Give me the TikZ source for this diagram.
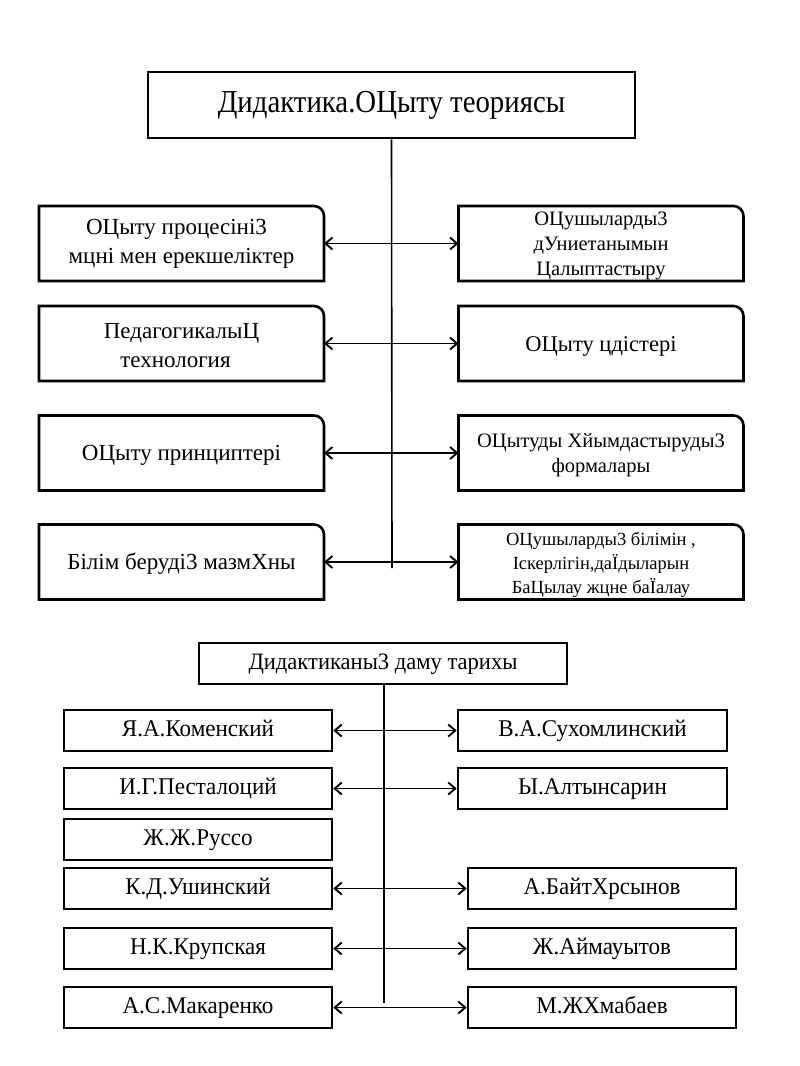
\documentclass[tikz,border=0pt]{standalone}
\usepackage{fontspec}
\setmainfont{Liberation Serif}
\newfontfamily\titlefont[FakeStretch=0.9]{Liberation Serif}
\newfontfamily\narrowfont[FakeStretch=0.96]{Liberation Serif}
\usetikzlibrary{arrows.meta}
\begin{document}
\begin{tikzpicture}[x=1pt,y=-1pt,
  box/.style={draw, line width=2.6pt, inner sep=0pt, align=center},
  rbox/.style={inner sep=0pt, align=center, minimum width=285pt, minimum height=75pt},
  ltxt/.style={font=\fontsize{23}{29}\selectfont},
  rtxt/.style={font=\fontsize{20.5}{25}\selectfont},
  lowbox/.style={box, minimum width=268pt, minimum height=41pt, text height=16pt, text depth=4pt, font=\narrowfont\fontsize{24}{26}\selectfont},
  conn/.style={line width=1.3pt, {Straight Barb[length=7pt,width=12pt,line width=1.9pt]}-{Straight Barb[length=7pt,width=12pt,line width=1.9pt]}},
  vline/.style={line width=1.6pt},
  edge/.style={line width=2.6pt}]
\useasboundingbox (0,0) rectangle (800,1066);
\fill[white] (0,0) rectangle (800,1066);

% top section
\node[box, minimum width=487pt, minimum height=66pt, font=\titlefont\fontsize{32}{36}\selectfont] (T) at (391.5,105) {Дидактика.ОЦыту теориясы};

\node[rbox, ltxt] (L1) at (181.5,243.5) {\hspace*{-10pt}ОЦыту процесіні3\\ мцні мен ерекшеліктер};
\node[rbox, ltxt] (L2) at (181.5,346) {ПедагогикалыЦ\\\hspace*{-12pt}технология};
\node[rbox, ltxt] (L3) at (181.5,455) {ОЦыту принциптері};
\node[rbox, ltxt] (L4) at (181.5,564) {Білім беруді3 мазмХны};

\node[rbox, rtxt] (R1) at (601,246) {ОЦушыларды3\\дУниетанымын\\Цалыптастыру};
\node[rbox, rtxt, font=\fontsize{22.5}{25}\selectfont] (R2) at (601,346) {ОЦыту цдістері};
\node[rbox, rtxt] (R3) at (601,455) {ОЦытуды Хйымдастыруды3\\формалары};
\node[rbox, rtxt, font=\fontsize{18.5}{24}\selectfont] (R4) at (601,565) {ОЦушыларды3 білімін ,\\Іскерлігін,даЇдыларын\\БаЦылау жцне баЇалау};

\foreach \n/\cy in {L1/243.5,L2/343.5,L3/453,L4/562,R1/243.5,R2/343.5,R3/453,R4/562}{
  \coordinate (\n c) at (\n.center |- 0,\cy);
  \draw[edge] ([shift={(-142.5pt,-37.5pt)}]\n c) -- ([shift={(-142.5pt,37.5pt)}]\n c) -- ([shift={(132.5pt,37.5pt)}]\n c)
     arc[start angle=90, end angle=0, radius=10pt] -- ([shift={(142.5pt,-37.5pt)}]\n c) -- cycle;
}

\coordinate (Tend) at (392,568);
\draw[vline] (T.south) -- (Tend);

\foreach \i in {1,2,3,4}
  \draw[conn] ([xshift=142.5pt]L\i c) -- ([xshift=-142.5pt]R\i c);

% lower section
\node[box, minimum width=368pt, minimum height=41pt, text height=16pt, text depth=4pt, font=\narrowfont\fontsize{23.5}{26}\selectfont] (H) at (383,663.5) {Дидактиканы3 даму тарихы};

\node[lowbox] (A1) at (198,730.5) {Я.А.Коменский};
\node[lowbox] (A2) at (198,788.5) {И.Г.Песталоций};
\node[lowbox] (A3) at (198,839.5) {Ж.Ж.Руссо};
\node[lowbox] (A4) at (198,888.5) {К.Д.Ушинский};
\node[lowbox] (A5) at (198,948.5) {Н.К.Крупская};
\node[lowbox] (A6) at (198,1007.5) {А.С.Макаренко};

\node[lowbox, minimum width=269pt] (B1) at (592.5,730.5) {В.А.Сухомлинский};
\node[lowbox, minimum width=269pt] (B2) at (592.5,788.5) {Ы.Алтынсарин};
\node[lowbox] (B4) at (602,888.5) {А.БайтХрсынов};
\node[lowbox] (B5) at (602,948.5) {Ж.Аймауытов};
\node[lowbox] (B6) at (602,1007.5) {М.ЖХмабаев};

\coordinate (Hend) at (384,1003);
\draw[vline] (H.south -| Hend) -- (Hend);

\foreach \i in {1,2,4,5,6}
  \draw[conn] (A\i.east) -- (B\i.west);
\end{tikzpicture}
\end{document}
